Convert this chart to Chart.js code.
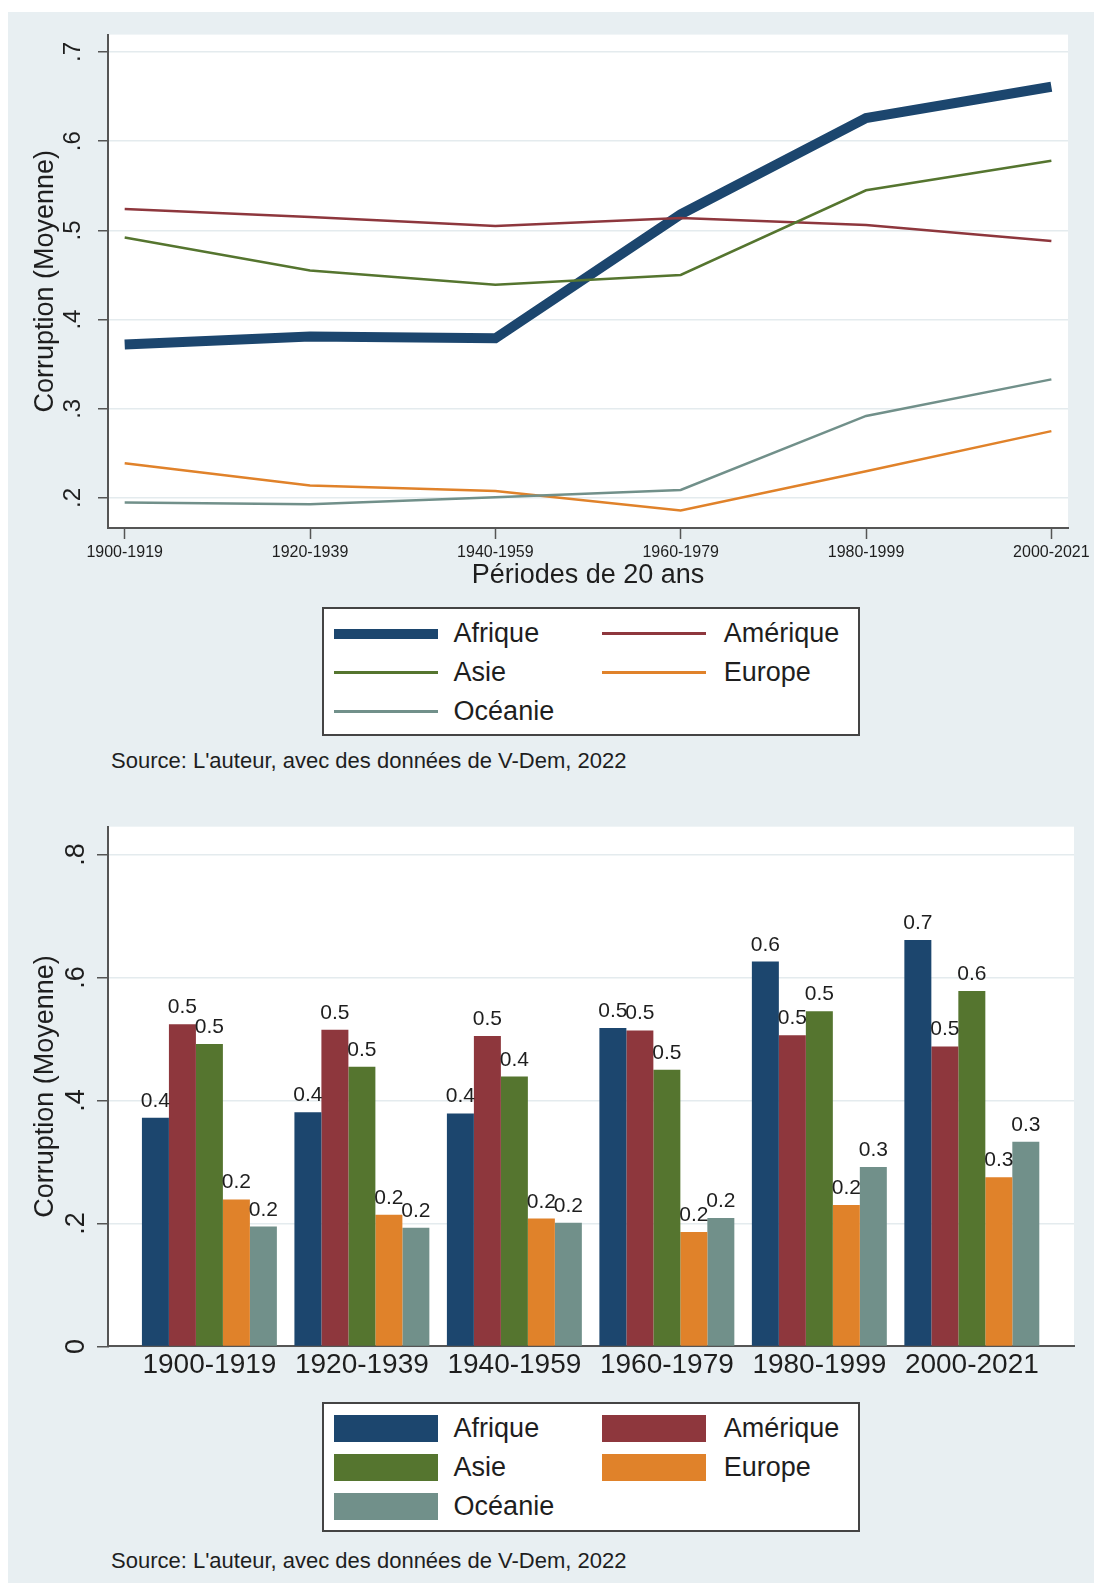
<!DOCTYPE html>
<html lang="fr">
<head>
<meta charset="utf-8">
<title>Corruption moyenne par région</title>
<script src="https://cdn.jsdelivr.net/npm/chart.js@4.4.1/dist/chart.umd.min.js"></script>
<style>
    html, body { margin: 0; padding: 0; background: #ffffff; }
    body { position: relative; width: 1094px; height: 1583px; overflow: hidden;
           font-family: "Liberation Sans", Arial, sans-serif; color: #1e1e1e; }
    #panel { position: absolute; left: 8px; top: 12px; width: 1086px; height: 1571px; background: #e8eff2; }
    canvas { position: absolute; left: 0; }
    #lineChart { top: 0; }
    #barChart { top: 790px; }
    .legend { position: absolute; left: 322px; width: 538px; box-sizing: border-box;
              border: 2px solid #444; background: #ffffff; }
    .legend .sw { position: absolute; width: 104px; }
    .legend .txt { position: absolute; font-size: 27px; line-height: 27px; white-space: nowrap; }
    .source { position: absolute; left: 111px; font-size: 22px; line-height: 22px; white-space: nowrap; }
</style>
</head>
<body>
<div id="panel"></div>
<canvas id="lineChart" width="1094" height="600"></canvas>
<canvas id="barChart" width="1094" height="610"></canvas>
<div class="legend" id="lineLegend" style="top:607px;height:129px;"></div>
<div class="source" style="top:750px;">Source: L'auteur, avec des données de V-Dem, 2022</div>
<div class="legend" id="barLegend" style="top:1402px;height:130px;"></div>
<div class="source" style="top:1550px;">Source: L'auteur, avec des données de V-Dem, 2022</div>

<script>
// Periods on the x axis
var periods = ['1900-1919', '1920-1939', '1940-1959', '1960-1979', '1980-1999', '2000-2021'];

// Mean corruption per region
var afrique  = [0.372, 0.381, 0.379, 0.518, 0.626, 0.661];
var amerique = [0.524, 0.515, 0.505, 0.514, 0.506, 0.488];
var asie     = [0.492, 0.455, 0.439, 0.450, 0.545, 0.578];
var europe   = [0.239, 0.214, 0.208, 0.186, 0.230, 0.275];
var oceanie  = [0.195, 0.193, 0.201, 0.209, 0.292, 0.333];

var regions = ['Afrique', 'Amérique', 'Asie', 'Europe', 'Océanie'];
var series = [afrique, amerique, asie, europe, oceanie];
var colors = ['#1c466e', '#8e373d', '#55752f', '#e0822a', '#71908a'];
var lineWidths = [10, 2.5, 2.5, 2.5, 2.5];

// Tick values
var lineYTicks = [0.2, 0.3, 0.4, 0.5, 0.6, 0.7];
var barYTicks = [0, 0.2, 0.4, 0.6, 0.8];

var FONT = '"Liberation Sans", Arial, sans-serif';
var TEXT = '#1e1e1e';
var AXIS = '#555555';
var GRID = '#e4ebee';

Chart.defaults.font.family = FONT;
Chart.defaults.color = TEXT;

function points(values) {
    return values.map(function(v, i) { return { x: i, y: v }; });
}

// Stata style: .2 instead of 0.2
function stataLabel(value) {
    if (value === 0) return '0';
    return value.toFixed(1).replace(/^0/, '');
}

// White plot region
var plotBackground = {
    id: 'plotBackground',
    beforeDraw: function(chart) {
        var a = chart.chartArea;
        var ctx = chart.ctx;
        ctx.save();
        ctx.fillStyle = '#ffffff';
        ctx.fillRect(a.left, a.top, a.right - a.left, a.bottom - a.top);
        ctx.restore();
    }
};

// Values printed above each bar
var valueLabels = {
    id: 'valueLabels',
    afterDatasetsDraw: function(chart) {
        var ctx = chart.ctx;
        ctx.save();
        ctx.font = '21px ' + FONT;
        ctx.fillStyle = TEXT;
        ctx.textAlign = 'center';
        ctx.textBaseline = 'alphabetic';
        chart.data.datasets.forEach(function(ds, i) {
            chart.getDatasetMeta(i).data.forEach(function(bar, j) {
                ctx.fillText(ds.data[j].y.toFixed(1), bar.x, bar.y - 11);
            });
        });
        ctx.restore();
    }
};

// ---- Line chart ----
new Chart(document.getElementById('lineChart'), {
    type: 'line',
    data: {
        datasets: regions.map(function(name, i) {
            return {
                label: name,
                data: points(series[i]),
                borderColor: colors[i],
                backgroundColor: colors[i],
                borderWidth: lineWidths[i],
                pointRadius: 0,
                tension: 0,
                fill: false,
                order: regions.length - i
            };
        })
    },
    options: {
        responsive: false,
        animation: false,
        devicePixelRatio: 1,
        layout: { padding: { left: 0, top: 34.6, right: 21, bottom: 0 } },
        plugins: { legend: { display: false }, tooltip: { enabled: false } },
        scales: {
            x: {
                type: 'linear',
                min: -0.09,
                max: 5.09,
                afterBuildTicks: function(axis) {
                    axis.ticks = periods.map(function(p, i) { return { value: i }; });
                },
                afterFit: function(axis) { axis.height = 72; },
                ticks: {
                    autoSkip: false,
                    maxRotation: 0,
                    padding: 4,
                    font: { size: 16 },
                    callback: function(value) { return periods[value]; }
                },
                grid: { drawOnChartArea: false, drawTicks: true, tickLength: 11, tickColor: AXIS, tickWidth: 1.5 },
                border: { display: true, color: AXIS, width: 2 },
                title: {
                    display: true,
                    text: 'Périodes de 20 ans',
                    font: { size: 27 },
                    padding: { top: 0, bottom: 7.8 }
                }
            },
            y: {
                min: 0.1664,
                max: 0.7195,
                afterBuildTicks: function(axis) {
                    axis.ticks = lineYTicks.map(function(v) { return { value: v }; });
                },
                afterFit: function(axis) { axis.width = 108; },
                ticks: {
                    minRotation: 90,
                    maxRotation: 90,
                    crossAlign: 'center',
                    padding: 15,
                    font: { size: 24 },
                    callback: stataLabel
                },
                grid: { color: GRID, lineWidth: 1.5, drawTicks: true, tickLength: 10, tickColor: AXIS, tickWidth: 1.5 },
                border: { display: true, color: AXIS, width: 2 },
                title: {
                    display: true,
                    text: 'Corruption (Moyenne)',
                    font: { size: 27 },
                    padding: { top: 29, bottom: 0 }
                }
            }
        }
    },
    plugins: [plotBackground]
});

// ---- Bar chart ----
new Chart(document.getElementById('barChart'), {
    type: 'bar',
    data: {
        datasets: regions.map(function(name, i) {
            return {
                label: name,
                data: points(series[i]),
                backgroundColor: colors[i],
                borderWidth: 0,
                categoryPercentage: 0.885,
                barPercentage: 1
            };
        })
    },
    options: {
        responsive: false,
        animation: false,
        devicePixelRatio: 1,
        layout: { padding: { left: 0, top: 36.7, right: 20, bottom: 0 } },
        plugins: { legend: { display: false }, tooltip: { enabled: false } },
        scales: {
            x: {
                type: 'linear',
                min: -0.665,
                max: 5.67,
                offset: false,
                afterBuildTicks: function(axis) {
                    axis.ticks = periods.map(function(p, i) { return { value: i }; });
                },
                afterFit: function(axis) { axis.height = 53.6; },
                ticks: {
                    autoSkip: false,
                    maxRotation: 0,
                    padding: 2,
                    font: { size: 28 },
                    callback: function(value) { return periods[value]; }
                },
                grid: { display: true, drawOnChartArea: false, drawTicks: false },
                border: { display: true, color: AXIS, width: 2 }
            },
            y: {
                min: 0,
                max: 0.8454,
                afterBuildTicks: function(axis) {
                    axis.ticks = barYTicks.map(function(v) { return { value: v }; });
                },
                afterFit: function(axis) { axis.width = 108; },
                ticks: {
                    minRotation: 90,
                    maxRotation: 90,
                    crossAlign: 'center',
                    padding: 9,
                    font: { size: 27 },
                    callback: stataLabel
                },
                grid: { color: GRID, lineWidth: 1.5, drawTicks: true, tickLength: 11, tickColor: AXIS, tickWidth: 1.5 },
                border: { display: true, color: AXIS, width: 2 },
                title: {
                    display: true,
                    text: 'Corruption (Moyenne)',
                    font: { size: 27 },
                    padding: { top: 29.3, bottom: 0 }
                }
            }
        }
    },
    plugins: [plotBackground, valueLabels]
});

// ---- Boxed two-column legends ----
var swatchLeft = [9.6, 277.5];
var textLeft = [129.6, 399.7];
var rowCenter = [24.5, 63.5, 102.5];

function buildLegend(id, filled) {
    var box = document.getElementById(id);
    regions.forEach(function(name, i) {
        var col = i % 2, row = Math.floor(i / 2);
        var h = filled ? 27 : (i === 0 ? 10 : 3);
        var sw = document.createElement('div');
        sw.className = 'sw';
        sw.style.left = swatchLeft[col] + 'px';
        sw.style.top = (rowCenter[row] - h / 2) + 'px';
        sw.style.height = h + 'px';
        sw.style.background = colors[i];
        box.appendChild(sw);

        var txt = document.createElement('div');
        txt.className = 'txt';
        txt.style.left = textLeft[col] + 'px';
        txt.style.top = (rowCenter[row] - 13.5) + 'px';
        txt.textContent = name;
        box.appendChild(txt);
    });
}

buildLegend('lineLegend', false);
buildLegend('barLegend', true);
</script>
</body>
</html>
